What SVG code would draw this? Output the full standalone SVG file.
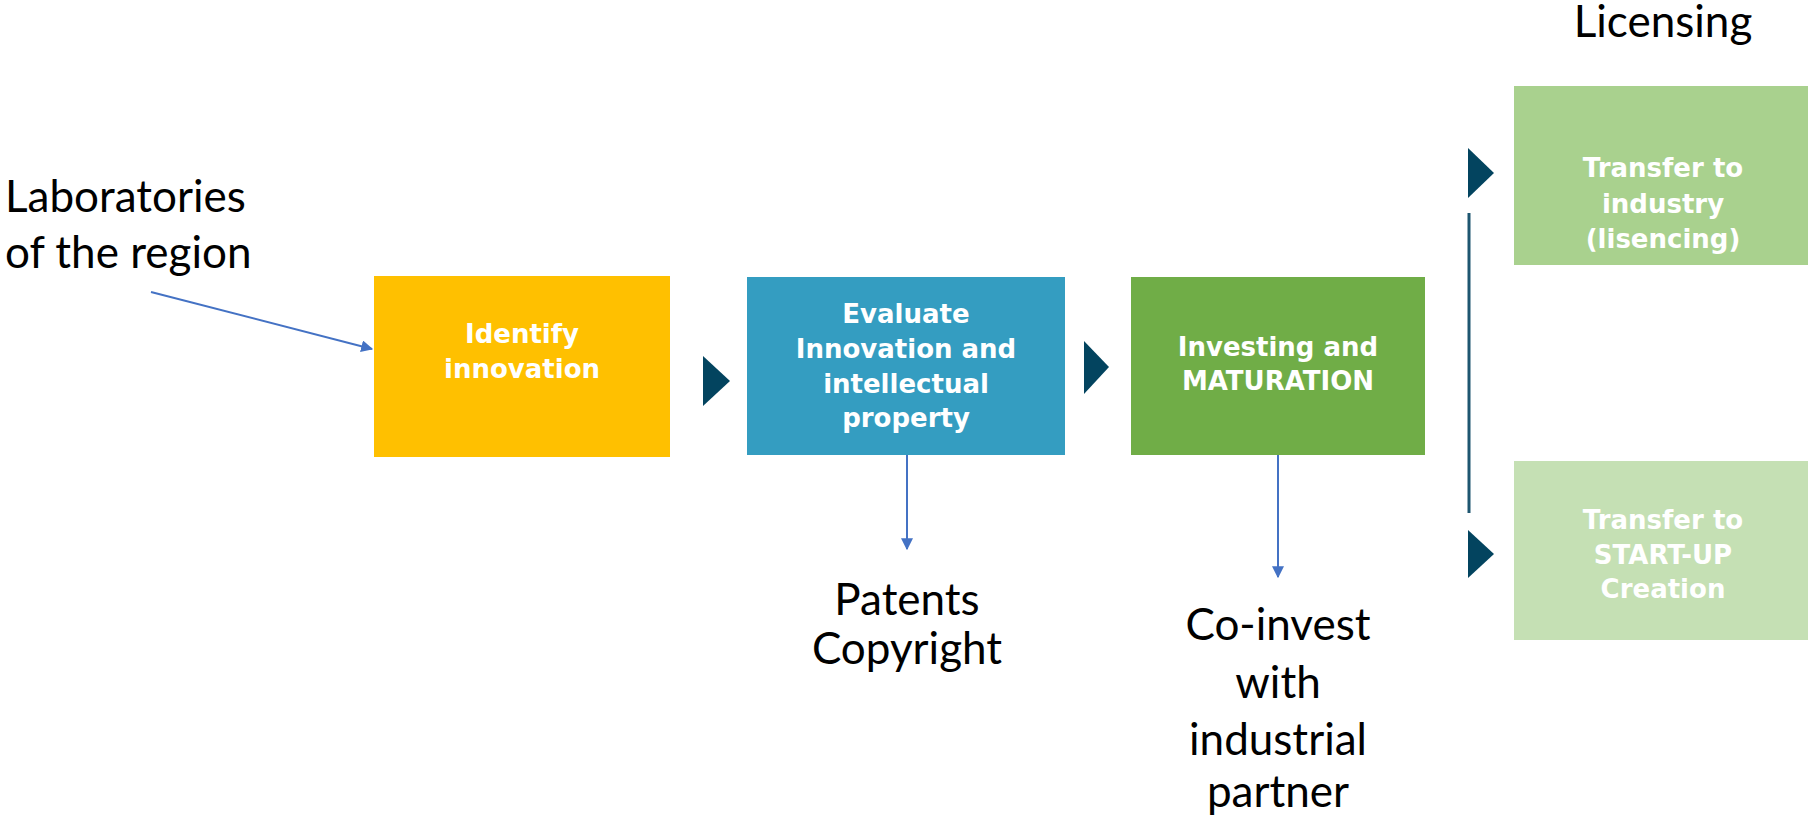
<svg xmlns="http://www.w3.org/2000/svg" width="1808" height="821" viewBox="0 0 1808 821">
<style>
.lbl{font-family:Lato,"Liberation Sans",sans-serif;font-size:44px;fill:#000;text-anchor:middle}
.box{font-family:"DejaVu Sans",Verdana,sans-serif;font-weight:bold;font-size:26px;fill:#fff;text-anchor:middle}
.con{stroke:#4472C4;stroke-width:2;fill:none}
.chev{fill:#03445F}
</style>
<defs>
<marker id="ah" viewBox="0 0 10 10" refX="9" refY="5" markerWidth="6" markerHeight="6" markerUnits="strokeWidth" orient="auto">
<path d="M0,0 L10,5 L0,10 z" fill="#4472C4"/>
</marker>
</defs>
<rect width="1808" height="821" fill="#fff"/>
<g id="labs">
<text class="lbl" style="text-anchor:start" x="5" y="212">Laboratories</text>
<text class="lbl" style="text-anchor:start" x="5" y="268">of the region</text>
</g>
<g id="identify">
<rect x="374" y="276" width="296" height="181" fill="#FFC000"/>
<text class="box" x="522" y="343">Identify</text>
<text class="box" x="522" y="378">innovation</text>
</g>
<g id="evaluate">
<rect x="747" y="277" width="318" height="178" fill="#349DC1"/>
<text class="box" x="906" y="323">Evaluate</text>
<text class="box" x="906" y="358">Innovation and</text>
<text class="box" x="906" y="393">intellectual</text>
<text class="box" x="906" y="427">property</text>
</g>
<g id="investing">
<rect x="1131" y="277" width="294" height="178" fill="#70AD47"/>
<text class="box" x="1278" y="356">Investing and</text>
<text class="box" x="1278" y="390">MATURATION</text>
</g>
<g id="industry">
<rect x="1514" y="86" width="294" height="179" fill="#A9D18E"/>
<text class="box" x="1663" y="177">Transfer to</text>
<text class="box" x="1663" y="213">industry</text>
<text class="box" x="1663" y="248">(lisencing)</text>
</g>
<g id="startup">
<rect x="1514" y="461" width="294" height="179" fill="#C5E0B4"/>
<text class="box" x="1663" y="529">Transfer to</text>
<text class="box" x="1663" y="564">START-UP</text>
<text class="box" x="1663" y="598">Creation</text>
</g>
<g id="patents">
<text class="lbl" x="907" y="615">Patents</text>
<text class="lbl" x="907" y="664">Copyright</text>
</g>
<g id="coinvest">
<text class="lbl" x="1278" y="640">Co-invest</text>
<text class="lbl" x="1278" y="698">with</text>
<text class="lbl" x="1278" y="755">industrial</text>
<text class="lbl" x="1278" y="807">partner</text>
</g>
<g id="licensing">
<text class="lbl" x="1663" y="37">Licensing</text>
</g>
<g id="connectors">
<line class="con" x1="151" y1="292" x2="372" y2="349" marker-end="url(#ah)"/>
<line class="con" x1="907" y1="455" x2="907" y2="549" marker-end="url(#ah)"/>
<line class="con" x1="1278" y1="455" x2="1278" y2="577" marker-end="url(#ah)"/>
<polygon class="chev" points="703,356 730,381 703,406"/>
<polygon class="chev" points="1084,341 1109,367 1084,394"/>
<polygon class="chev" points="1468,148 1494,173 1468,198"/>
<polygon class="chev" points="1468,530 1494,554 1468,578"/>
<line x1="1469" y1="213" x2="1469" y2="513" stroke="#1E5670" stroke-width="3"/>
</g>
</svg>
